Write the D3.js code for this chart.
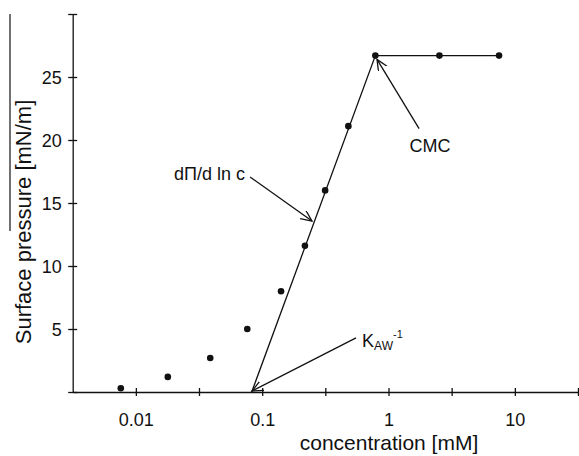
<!DOCTYPE html>
<html>
<head>
<meta charset="utf-8">
<script src="https://cdn.jsdelivr.net/npm/d3@7"></script>
<style>
  html, body { margin: 0; padding: 0; background: #fff; }
  svg { display: block; }
  text { font-family: "Liberation Sans", Arial, sans-serif; fill: #111; }
</style>
</head>
<body>
<svg id="chart" width="579" height="456"></svg>
<script>
// ---- data ----
const concentration = [0.0076, 0.0179, 0.0388, 0.0762, 0.141, 0.218, 0.315, 0.481, 0.787, 2.53, 7.50];
const surfacePressure = [0.3, 1.2, 2.7, 5.0, 8.0, 11.6, 16.0, 21.1, 26.7, 26.7, 26.7];
const fitLineX = [0.0826, 0.787, 7.50];
const fitLineY = [0, 26.7, 26.7];
const xTickValues = [0.01, 0.0316, 0.1, 0.316, 1, 3.16, 10, 31.6];
const xTickLabels = ["0.01", "", "0.1", "", "1", "", "10", ""];
const yTickValues = [0, 5, 10, 15, 20, 25, 30];
const yTickLabels = ["", "5", "10", "15", "20", "25", ""];
const xDomain = [Math.pow(10, -2.5), Math.pow(10, 1.5)];
const yDomain = [0, 30];
// annotations in data coordinates
const annotations = [
  { label: "dΠ/d ln c", tx: 0.0731, ty: 16.8, anchor: "end", from: [0.0802, 17.06], to: [0.248, 13.57] },
  { label: "CMC", tx: 2.13, ty: 19.05, anchor: "middle", from: [1.746, 20.9], to: [0.811, 26.4] },
  { label: "K", tx: 0.6175, ty: 3.57, anchor: "start", from: [0.553, 4.29], to: [0.083, 0.08] }
];

// ---- layout ----
const svg = d3.select("#chart");
const x = d3.scaleLog().domain(xDomain).range([72.7, 578]);
const y = d3.scaleLinear().domain(yDomain).range([392, 14]);
const ink = "#111";

// markers
svg.append("defs").append("marker")
  .attr("id", "arrow").attr("markerUnits", "userSpaceOnUse")
  .attr("markerWidth", 14).attr("markerHeight", 12)
  .attr("refX", 11).attr("refY", 5).attr("orient", "auto")
  .append("path").attr("d", "M0,0 L11,5 L0,10")
  .attr("fill", "none").attr("stroke", ink).attr("stroke-width", 1.3);

// x axis
const xAxis = svg.append("g").attr("transform", `translate(0,${y(0)})`)
  .call(d3.axisBottom(x).tickValues(xTickValues)
    .tickFormat((d, i) => xTickLabels[i]).tickSizeOuter(0));
xAxis.select(".domain").attr("stroke", ink).attr("stroke-width", 1.3);
xAxis.selectAll(".tick line").attr("y1", -4).attr("y2", 4).attr("stroke", ink).attr("stroke-width", 1.3);
xAxis.selectAll(".tick text").attr("y", 34).attr("dy", 0)
  .style("font-size", "18px").style("font-family", "Liberation Sans, Arial, sans-serif").attr("fill", ink);

// y axis
const yAxis = svg.append("g").attr("transform", `translate(${x(xDomain[0])},0)`)
  .call(d3.axisLeft(y).tickValues(yTickValues)
    .tickFormat((d, i) => yTickLabels[i]).tickSizeOuter(0));
yAxis.select(".domain").attr("stroke", ink).attr("stroke-width", 1.3);
yAxis.selectAll(".tick line").attr("x1", -4.5).attr("x2", 4.5).attr("stroke", ink).attr("stroke-width", 1.3);
yAxis.selectAll(".tick text").attr("x", -11).attr("dy", "0.36em")
  .style("font-size", "18px").style("font-family", "Liberation Sans, Arial, sans-serif").attr("fill", ink);

// axis titles
svg.append("text").attr("x", 389).attr("y", 450).attr("text-anchor", "middle")
  .style("font-size", "21px").text("concentration [mM]");
svg.append("text").attr("transform", "translate(31,222) rotate(-90)").attr("text-anchor", "middle")
  .style("font-size", "22px").text("Surface pressure [mN/m]");
// stray frame line at the left edge
svg.append("line").attr("x1", 10).attr("x2", 10).attr("y1", 14).attr("y2", 231)
  .attr("stroke", ink).attr("stroke-width", 1.2);

// fitted line
svg.append("path")
  .datum(fitLineX.map((c, i) => [c, fitLineY[i]]))
  .attr("d", d3.line().x(d => x(d[0])).y(d => y(d[1])))
  .attr("fill", "none").attr("stroke", ink).attr("stroke-width", 1.3);

// points
svg.append("g").selectAll("circle")
  .data(concentration.map((c, i) => [c, surfacePressure[i]]))
  .join("circle")
  .attr("cx", d => x(d[0])).attr("cy", d => y(d[1])).attr("r", 3.3).attr("fill", ink);

// annotations
annotations.forEach(a => {
  svg.append("line")
    .attr("x1", x(a.from[0])).attr("y1", y(a.from[1]))
    .attr("x2", x(a.to[0])).attr("y2", y(a.to[1]))
    .attr("stroke", ink).attr("stroke-width", 1.3).attr("marker-end", "url(#arrow)");
  const t = svg.append("text").attr("x", x(a.tx)).attr("y", y(a.ty))
    .attr("text-anchor", a.anchor).style("font-size", "18px");
  if (a.label === "K") {
    t.append("tspan").text("K");
    t.append("tspan").attr("dy", 3).style("font-size", "12px").text("AW");
    t.append("tspan").attr("dy", -12).style("font-size", "11px").text("-1");
  } else {
    t.text(a.label);
  }
});
</script>
</body>
</html>
